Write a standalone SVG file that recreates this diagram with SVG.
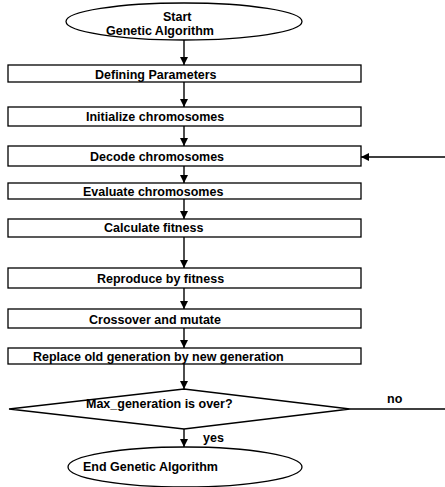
<svg xmlns="http://www.w3.org/2000/svg" width="445" height="487" viewBox="0 0 445 487">
<style>
  .shape { fill: #ffffff; stroke: #000000; stroke-width: 1.3; }
  .lbl { font-family: "Liberation Sans", Arial, sans-serif; font-weight: bold; fill: #000000; font-size: 12.5px; }
  .conn { fill: none; stroke: #000000; stroke-width: 1.4; }
</style>
<defs>
  <marker id="arr" viewBox="0 0 10 10" refX="10" refY="5" markerWidth="8" markerHeight="8" markerUnits="userSpaceOnUse" orient="auto">
    <path d="M0,0 L10,5 L0,10 z" fill="#000000"/>
  </marker>
  <marker id="arrh" viewBox="0 0 10 10" refX="10" refY="5" markerWidth="9" markerHeight="8" markerUnits="userSpaceOnUse" orient="auto">
    <path d="M0,0 L10,5 L0,10 z" fill="#000000"/>
  </marker>
</defs>
<rect width="445" height="487" fill="#ffffff"/>

<g id="connectors">
  <path class="conn" d="M184,40 V65" marker-end="url(#arr)"/>
  <path class="conn" d="M184,82 V107" marker-end="url(#arr)"/>
  <path class="conn" d="M184,126 V146" marker-end="url(#arr)"/>
  <path class="conn" d="M184,166 V183" marker-end="url(#arr)"/>
  <path class="conn" d="M184,199 V219" marker-end="url(#arr)"/>
  <path class="conn" d="M184,237 V268" marker-end="url(#arr)"/>
  <path class="conn" d="M184,288 V309" marker-end="url(#arr)"/>
  <path class="conn" d="M184,328 V348" marker-end="url(#arr)"/>
  <path class="conn" d="M184,364 V389" marker-end="url(#arr)"/>
  <path class="conn" d="M184,429 V447" marker-end="url(#arr)"/>
  <path class="conn" d="M350,409 H470 V157 H361" marker-end="url(#arrh)"/>
  <text class="lbl" x="387" y="403" font-size="11">no</text>
  <text class="lbl" x="203" y="442" font-size="11.5">yes</text>
</g>

<g id="start">
  <ellipse class="shape" cx="184" cy="21.5" rx="118" ry="18.5"/>
  <text class="lbl" x="163" y="21">Start</text>
  <text class="lbl" x="106" y="35">Genetic Algorithm</text>
</g>
<g id="define">
  <rect class="shape" x="8" y="65" width="353" height="17"/>
  <text class="lbl" x="95" y="79">Defining Parameters</text>
</g>
<g id="init">
  <rect class="shape" x="8" y="107" width="353" height="19"/>
  <text class="lbl" x="86" y="121">Initialize chromosomes</text>
</g>
<g id="decode">
  <rect class="shape" x="8" y="146" width="353" height="20"/>
  <text class="lbl" x="90" y="161">Decode chromosomes</text>
</g>
<g id="evaluate">
  <rect class="shape" x="8" y="183" width="353" height="16"/>
  <text class="lbl" x="83" y="196">Evaluate chromosomes</text>
</g>
<g id="fitness">
  <rect class="shape" x="8" y="219" width="353" height="18"/>
  <text class="lbl" x="104" y="232" font-size="13">Calculate fitness</text>
</g>
<g id="reproduce">
  <rect class="shape" x="8" y="268" width="353" height="20"/>
  <text class="lbl" x="97" y="283">Reproduce by fitness</text>
</g>
<g id="crossover">
  <rect class="shape" x="8" y="309" width="353" height="19"/>
  <text class="lbl" x="89" y="324">Crossover and mutate</text>
</g>
<g id="replace">
  <rect class="shape" x="8" y="348" width="353" height="16"/>
  <text class="lbl" x="33" y="361" font-size="10">Replace old generation by new generation</text>
</g>
<g id="decision">
  <polygon class="shape" points="9,409 184,389 350,409 184,429"/>
  <text class="lbl" x="86" y="408" font-size="11.5">Max_generation is over?</text>
</g>
<g id="end">
  <ellipse class="shape" cx="185" cy="467" rx="117" ry="20"/>
  <text class="lbl" x="83" y="471">End Genetic Algorithm</text>
</g>
</svg>
